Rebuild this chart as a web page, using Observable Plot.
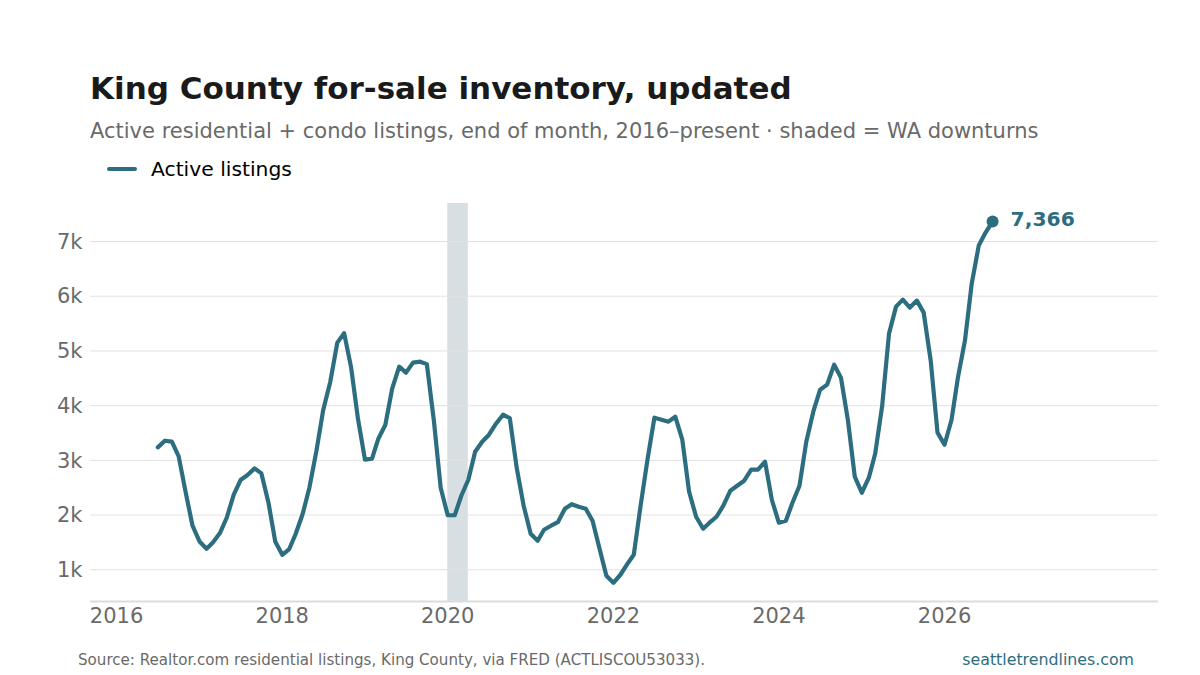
<!DOCTYPE html>
<html>
<head>
<meta charset="utf-8">
<script src="https://cdn.jsdelivr.net/npm/d3@7"></script>
<script src="https://cdn.jsdelivr.net/npm/@observablehq/plot@0.6"></script>
<style>
html,body{margin:0;padding:0;background:#fff;width:1200px;height:675px;overflow:hidden;font-family:"DejaVu Sans",sans-serif}
.t{position:absolute;white-space:nowrap;line-height:1}
#chart{position:absolute;left:0;top:190px}
#chart svg{display:block}
</style>
</head>
<body>
<div class="t" style="left:90px;top:73px;font-size:31px;font-weight:700;color:#1a1a1a">King County for-sale inventory, updated</div>
<div class="t" style="left:90px;top:121px;font-size:21px;color:#6a6a6a">Active residential + condo listings, end of month, 2016–present · shaded = WA downturns</div>
<div class="t" style="left:107px;top:167px;width:30px;height:4px;border-radius:2px;background:#2c6e7f"></div>
<div class="t" style="left:151px;top:159px;font-size:20.3px;color:#000">Active listings</div>
<div id="chart"></div>
<div class="t" style="left:78px;top:653px;font-size:15.1px;color:#6a6a6a">Source: Realtor.com residential listings, King County, via FRED (ACTLISCOU53033).</div>
<div class="t" style="right:66px;top:652px;font-size:15.8px;color:#2c6e7f">seattletrendlines.com</div>
<script>
const firstMonth = "2016-07-01";
const listings = [3237,3359,3341,3072,2414,1805,1518,1384,1499,1671,1951,2372,2640,2732,2853,2761,2231,1518,1274,1379,1653,2019,2505,3177,3926,4438,5152,5325,4694,3762,3012,3030,3396,3652,4310,4713,4603,4786,4804,4759,3725,2500,1997,1997,2353,2646,3158,3341,3469,3670,3835,3771,2847,2171,1658,1530,1732,1805,1869,2116,2198,2152,2116,1896,1384,890,762,909,1091,1274,2171,3030,3780,3744,3707,3798,3378,2427,1969,1750,1860,1969,2171,2445,2536,2628,2829,2829,2975,2280,1860,1896,2225,2536,3341,3890,4292,4384,4749,4512,3725,2701,2408,2683,3122,4000,5316,5810,5938,5792,5920,5700,4823,3506,3286,3743,4512,5188,6231,6926,7164,7366];
const yTicks = [1000,2000,3000,4000,5000,6000,7000];
const xTickYears = [2016,2018,2020,2022,2024,2026];
const downturns = [{start:"2020-01-01", end:"2020-04-01"}];
const xDomain = ["2015-09-08","2028-08-02"];
const yDomain = [420,7695];
const teal = "#2c6e7f";

const start = new Date(firstMonth);
const rows = listings.map((v,i)=>({date:d3.utcMonth.offset(start,i),value:v}));
const last = rows[rows.length-1];

const plot = Plot.plot({
  width:1200, height:450,
  marginLeft:90, marginRight:42, marginTop:13, marginBottom:39,
  style:{fontFamily:'"DejaVu Sans",sans-serif',background:"transparent",overflow:"visible"},
  x:{type:"utc",domain:xDomain.map(d=>new Date(d))},
  y:{domain:yDomain},
  marks:[
    Plot.rect(downturns,{x1:d=>new Date(d.start),x2:d=>new Date(d.end),y1:yDomain[0],y2:yDomain[1],fill:"#3a5f6e",fillOpacity:0.2}),
    Plot.ruleY(yTicks,{stroke:"#e2e2e2",strokeWidth:1}),
    Plot.ruleY([yDomain[0]],{stroke:"#dcdcdc",strokeWidth:2}),
    Plot.axisY({ticks:yTicks,tickFormat:d=>d/1000+"k",tickSize:0,tickPadding:8,fontSize:21,dy:0.5,color:"#6a6a6a",label:null}),
    Plot.axisX({ticks:xTickYears.map(y=>new Date(Date.UTC(y,0,1))),tickFormat:d=>String(d.getUTCFullYear()),tickSize:0,tickPadding:7,fontSize:21,color:"#6a6a6a",label:null}),
    Plot.line(rows,{x:"date",y:"value",stroke:teal,strokeWidth:4.2,strokeLinejoin:"round",strokeLinecap:"round",curve:"linear"}),
    Plot.dot([last],{x:"date",y:"value",r:6,fill:teal}),
    Plot.text([last],{x:"date",y:"value",text:d=>d3.format(",")(d.value),dx:18,dy:-2,textAnchor:"start",fontSize:20.3,fontWeight:700,fill:teal})
  ]
});
document.getElementById("chart").appendChild(plot);
</script>
</body>
</html>
